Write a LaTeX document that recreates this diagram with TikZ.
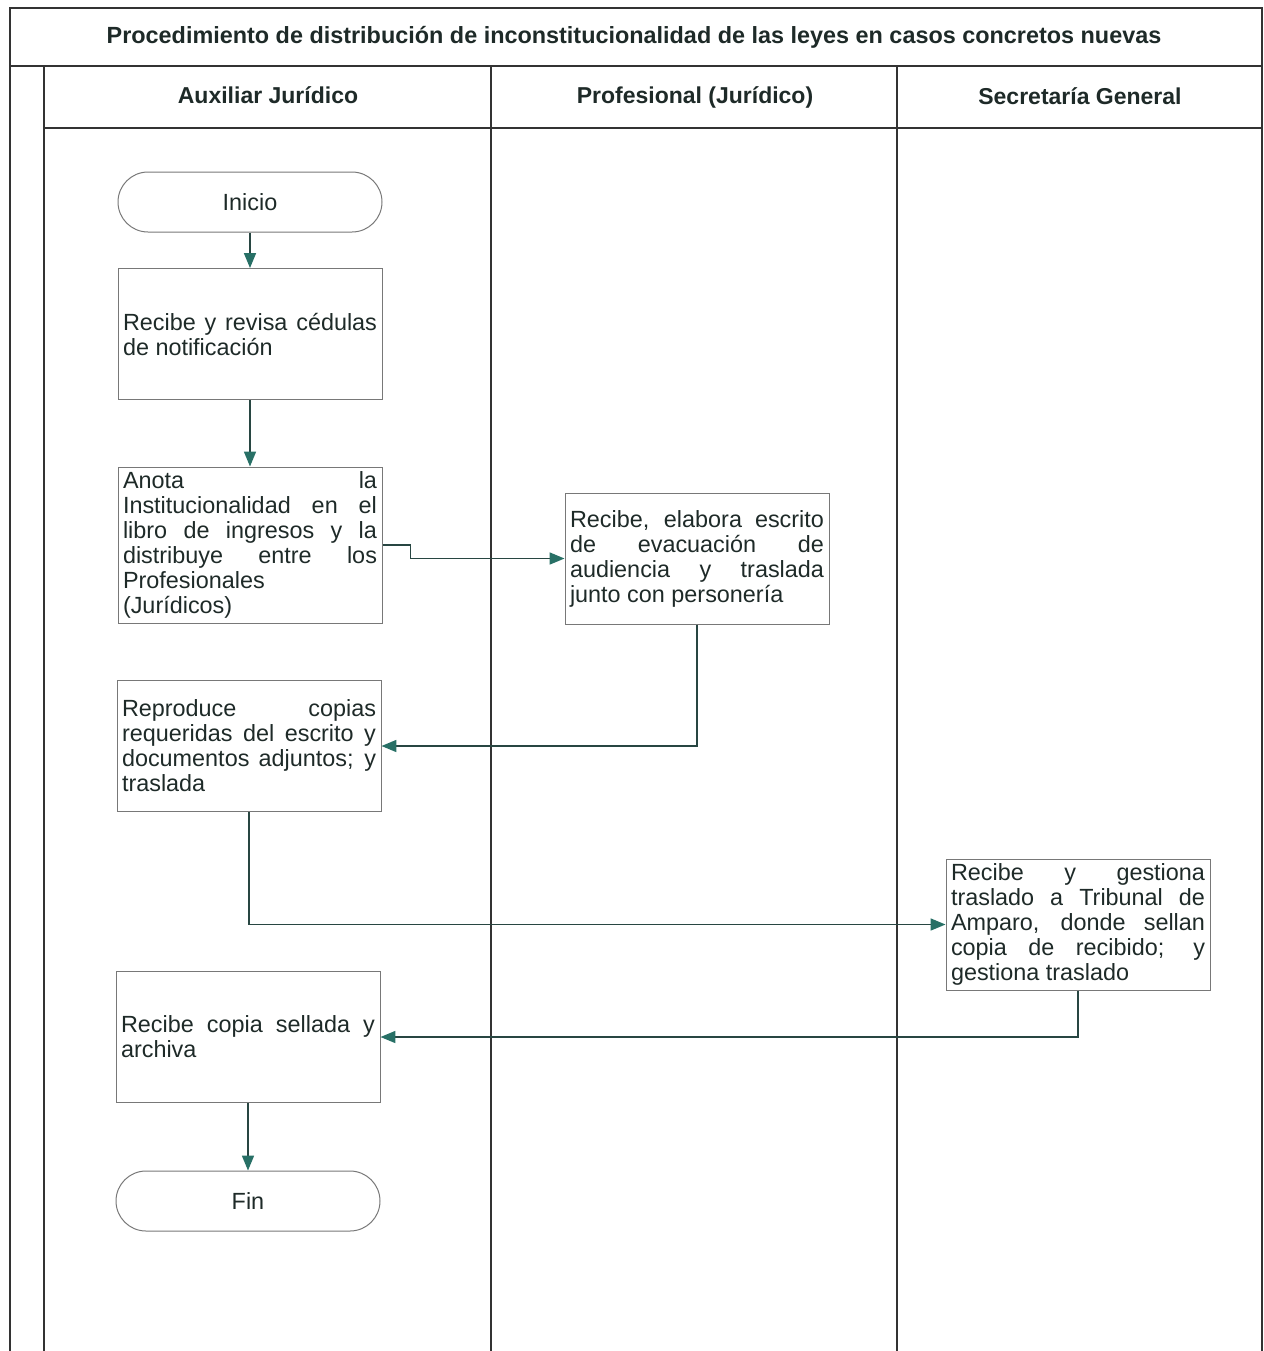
\documentclass[tikz,border=0pt]{standalone}
\usepackage{fontspec}
\setmainfont{Liberation Sans}
\usetikzlibrary{arrows.meta,positioning}
\definecolor{ink}{RGB}{30,42,40}
\definecolor{flowline}{RGB}{40,70,66}
\definecolor{tipteal}{RGB}{40,112,102}
\definecolor{boxline}{RGB}{120,120,120}

\begin{document}
\begin{tikzpicture}[
  x=0.5pt,y=-0.5pt,
  font=\fontsize{11.7}{12.5}\selectfont,
  text=ink,
  lane/.style={draw=black!80,line width=0.8pt},
  head/.style={font=\fontsize{11.5}{13}\selectfont\bfseries,text height=8.5pt,text depth=2.5pt},
  act/.style={draw=boxline,line width=0.5pt,align=justify,text width=127pt,
    inner xsep=2.5pt,inner ysep=2pt,minimum height=65.5pt},
  term/.style={draw=boxline,line width=0.5pt,rounded corners=15pt,
    minimum width=132pt,minimum height=30pt},
  ptr/.style={-{Triangle[length=2.6mm,width=2.1mm,color=tipteal]},flowline,line width=0.7pt},
]
\useasboundingbox (0,0) rectangle (1264,1351);
% frame and lanes
\draw[lane] (10,1351) -- (10,8) -- (1262,8) -- (1262,1351);
\draw[lane] (10,66) -- (1262,66);
\draw[lane] (44,128) -- (1262,128);
\draw[lane] (44,66) -- (44,1351);
\draw[lane] (491,66) -- (491,1351);
\draw[lane] (897,66) -- (897,1351);
\node[head,font=\fontsize{11.7}{13}\selectfont\bfseries] (title) at (634,37)
  {Procedimiento de distribución de inconstitucionalidad de las leyes en casos concretos nuevas};
\node[head] (auxiliar) at (268,97) {Auxiliar Jurídico};
\node[head] (profesional) at (695,97) {Profesional (Jurídico)};
\node[head] (secretaria) at (1080,98) {Secretaría General};
% activities
\node[term] (inicio) at (250,202) {Inicio};
\node[act] (cedulas) at (250,334) 
  {Recibe y revisa cédulas\linebreak de notificación};
\node[act,minimum height=78pt] (anota) at (250,545)
  {Anota la\linebreak Institucionalidad en el\linebreak libro de ingresos y la\linebreak
   distribuye entre los\linebreak Profesionales\linebreak (Jurídicos)};
\node[act] (evacua) at (697,558.5)
  {Recibe, elabora escrito\linebreak de evacuación de\linebreak audiencia y traslada\linebreak
   junto con personería};
\node[act] (copias) at (249,746)
  {Reproduce copias\linebreak requeridas del escrito y\linebreak documentos adjuntos; y\linebreak
   traslada};
\node[act] (amparo) at (1078,924.5)
  {Recibe y gestiona\linebreak traslado a Tribunal de\linebreak Amparo, donde sellan\linebreak
   copia de recibido; y\linebreak gestiona traslado};
\node[act] (archiva) at (248,1037)
  {Recibe copia sellada y\linebreak archiva};
\node[term] (fin) at (248,1201) {Fin};
% flow
\draw[ptr] (inicio) -- (cedulas);
\draw[ptr] (cedulas) -- (anota);
\draw[ptr] (anota.east) -- ++(28,0) |- (evacua.west);
\draw[ptr] (evacua.south) |- (copias.east);
\draw[ptr] (copias.south) |- (amparo.west);
\draw[ptr] (amparo.south) |- (archiva.east);
\draw[ptr] (archiva) -- (fin);
\end{tikzpicture}
\end{document}
